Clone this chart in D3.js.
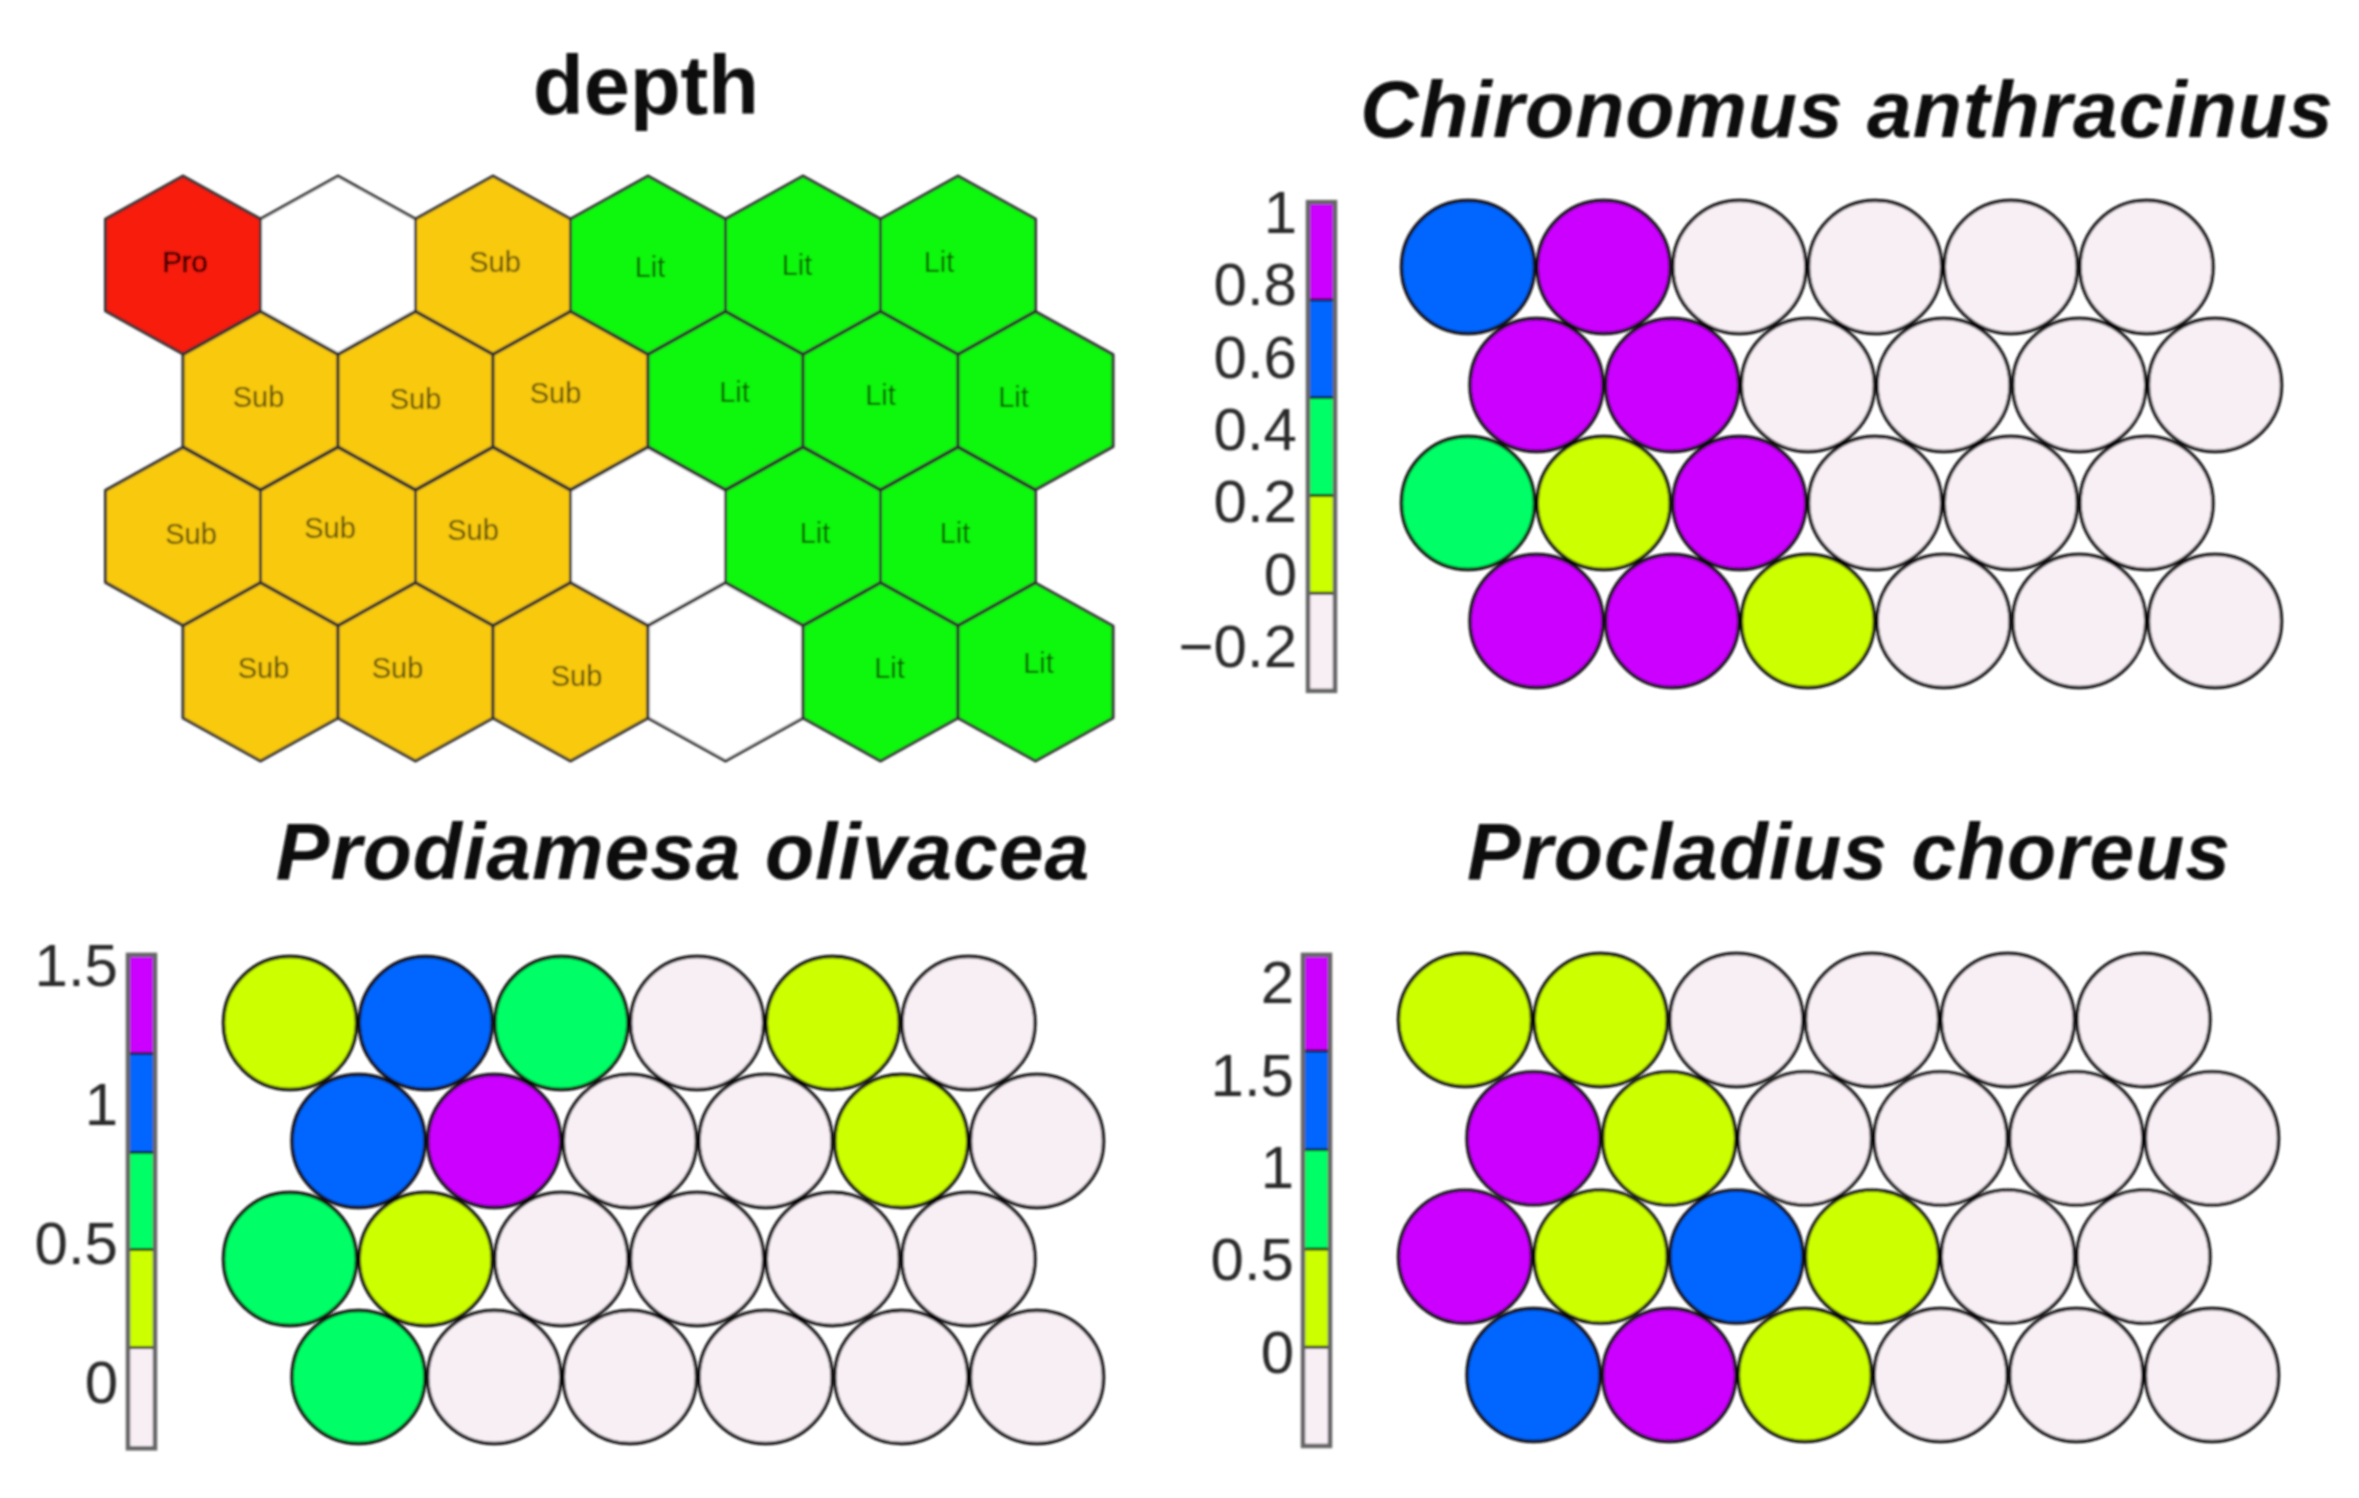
<!DOCTYPE html>
<html>
  <head>
    <meta charset="utf-8">
    <title>SOM maps</title>
    <style>
      html, body { margin: 0; padding: 0; background: #fff; }
      svg { display: block; font-family: "Liberation Sans", Arial, sans-serif; }
    </style>
  </head>
  <body>
    <div class="chart-area"></div>
    <script src="https://d3js.org/d3.v7.min.js"></script>
    <script>
      // depth classes of the hexagon map, one array per row ("" = empty cell)
      var depthRow1 = ["Pro", "", "Sub", "Lit", "Lit", "Lit"];
      var depthRow2 = ["Sub", "Sub", "Sub", "Lit", "Lit", "Lit"];
      var depthRow3 = ["Sub", "Sub", "Sub", "", "Lit", "Lit"];
      var depthRow4 = ["Sub", "Sub", "Sub", "", "Lit", "Lit"];

      // species values, read as the middle of the colour band of each circle
      var chironomus = [
        [0.6, 0.9, -0.2, -0.2, -0.2, -0.2],
        [0.9, 0.9, -0.2, -0.2, -0.2, -0.2],
        [0.35, 0.1, 0.9, -0.2, -0.2, -0.2],
        [0.9, 0.9, 0.1, -0.2, -0.2, -0.2]
      ];
      var prodiamesa = [
        [0.3, 1.0, 0.65, 0, 0.3, 0],
        [1.0, 1.35, 0, 0, 0.3, 0],
        [0.65, 0.3, 0, 0, 0, 0],
        [0.65, 0, 0, 0, 0, 0]
      ];
      var procladius = [
        [0.3, 0.3, -0.25, -0.25, -0.25, -0.25],
        [1.9, 0.3, -0.25, -0.25, -0.25, -0.25],
        [1.9, 0.3, 1.35, 0.3, -0.25, -0.25],
        [1.35, 1.9, 0.3, -0.25, -0.25, -0.25]
      ];

      // colour band edges of each legend, bottom to top
      var chironomusBands = [-0.32, -0.05, 0.22, 0.49, 0.76, 1.03];
      var prodiamesaBands = [-0.235, 0.127, 0.48, 0.83, 1.185, 1.54];
      var procladiusBands = [-0.503, 0.032, 0.563, 1.1, 1.635, 2.155];

      var chironomusTicks = [-0.2, 0, 0.2, 0.4, 0.6, 0.8, 1];
      var prodiamesaTicks = [0, 0.5, 1, 1.5];
      var procladiusTicks = [0, 0.5, 1, 1.5, 2];

      var bandColors = ["#F8EFF5", "#CCFF00", "#00FF66", "#0066FF", "#CC00FF"];
      var depthColors = { Pro: "#F81A0C", Sub: "#F8C90F", Lit: "#10F80F", "": "#FFFFFF" };

      var svg = d3.select(".chart-area")
        .append("svg")
          .attr("width", 2359)
          .attr("height", 1498);

      // the reference is a blurry raster, so soften everything a little
      svg.append("filter")
          .attr("id", "soft")
          .attr("filterUnits", "userSpaceOnUse")
          .attr("x", 0).attr("y", 0)
          .attr("width", 2359).attr("height", 1498)
        .append("feGaussianBlur")
          .attr("stdDeviation", 0.8);

      var root = svg.append("g").attr("filter", "url(#soft)");

      // ---- hexagon map ----
      var depthRows = [depthRow1, depthRow2, depthRow3, depthRow4];
      var hexX = d3.scaleLinear().domain([0, 5]).range([183, 958]);
      var hexY = d3.scaleLinear().domain([0, 3]).range([265, 672]);
      var hexHalfW = 77.5, hexTip = 89, hexShoulder = 46;

      // the labels sit slightly off centre in the reference
      var labelNudge = [
        [[2, -3], null, [2, -3], [2, 2], [-6, 0], [-19, -3]],
        [[-2, -4], [0, -2], [-15, -8], [9, -9], [0, -6], [-22, -4]],
        [[8, -2], [-8, -8], [-20, -6], null, [12, -3], [-3, -3]],
        [[3, -4], [-18, -4], [6, 4], null, [9, -4], [3, -9]]
      ];

      var hexLine = d3.line();
      function hexPath(cx, cy) {
        return hexLine([
          [cx, cy - hexTip], [cx + hexHalfW, cy - hexShoulder], [cx + hexHalfW, cy + hexShoulder],
          [cx, cy + hexTip], [cx - hexHalfW, cy + hexShoulder], [cx - hexHalfW, cy - hexShoulder]
        ]) + "Z";
      }

      var hexCells = [];
      depthRows.forEach(function(row, r) {
        row.forEach(function(label, c) {
          hexCells.push({ label: label, r: r, c: c, cx: hexX(c) + (r % 2 ? hexHalfW : 0), cy: hexY(r) });
        });
      });

      var hexes = root.append("g");
      hexes.selectAll("path")
        .data(hexCells)
        .enter().append("path")
          .attr("d", function(d) { return hexPath(d.cx, d.cy); })
          .attr("fill", function(d) { return depthColors[d.label]; })
          .attr("stroke", "#2e2e2e")
          .attr("stroke-width", 3)
          .attr("stroke-linejoin", "round");

      hexes.selectAll("text")
        .data(hexCells.filter(function(d) { return d.label !== ""; }))
        .enter().append("text")
          .attr("x", function(d) { return d.cx + labelNudge[d.r][d.c][0]; })
          .attr("y", function(d) { return d.cy + labelNudge[d.r][d.c][1] + 10; })
          .attr("text-anchor", "middle")
          .attr("font-size", 29)
          .attr("stroke-width", 0.6)
          .attr("stroke", function(d) { return d.label === "Pro" ? "#300" : "none"; })
          .attr("fill", function(d) { return d.label === "Pro" ? "#400404" : (d.label === "Sub" ? "#5a4c10" : "#085a06"); })
          .text(function(d) { return d.label; });

      // ---- circle maps with legend ----
      function drawPanel(values, bands, ticks, p) {
        var fill = d3.scaleThreshold().domain(bands.slice(1, -1)).range(bandColors);
        var x = d3.scaleLinear().domain([0, 5]).range([p.x0, p.x0 + 5 * 135.7]);
        var y = d3.scaleLinear().domain([0, 3]).range([p.y0, p.y1]);
        var g = root.append("g");

        var cells = [];
        values.forEach(function(row, r) {
          row.forEach(function(v, c) {
            cells.push({ v: v, cx: x(c) + (r % 2 ? 68.5 : 0), cy: y(r) });
          });
        });

        g.append("g").selectAll("circle")
          .data(cells)
          .enter().append("circle")
            .attr("cx", function(d) { return d.cx; })
            .attr("cy", function(d) { return d.cy; })
            .attr("r", 66.5)
            .attr("fill", function(d) { return fill(d.v); })
            .attr("stroke", "#111")
            .attr("stroke-width", 3.4);

        // colour key
        var legendY = d3.scaleLinear().domain(p.tickDomain).range(p.tickRange);
        var pairs = d3.pairs(bands);
        g.append("g").selectAll("rect")
          .data(pairs)
          .enter().append("rect")
            .attr("x", p.legendX)
            .attr("y", function(d) { return legendY(d[1]); })
            .attr("width", 27)
            .attr("height", function(d) { return legendY(d[0]) - legendY(d[1]); })
            .attr("fill", function(d, i) { return bandColors[i]; })
            .attr("stroke", "#111")
            .attr("stroke-width", 2.5);
        g.append("rect")
          .attr("x", p.legendX)
          .attr("y", legendY(bands[bands.length - 1]))
          .attr("width", 27)
          .attr("height", legendY(bands[0]) - legendY(bands[bands.length - 1]))
          .attr("fill", "none")
          .attr("stroke", "#666")
          .attr("stroke-width", 4.5);

        var axis = g.append("g")
          .attr("transform", "translate(" + (p.legendX + 4) + ",0)")
          .call(d3.axisLeft(legendY).tickValues(ticks).tickSize(0).tickPadding(p.pad).tickFormat(function(d) {
            return String(d).replace("-", "\u2212");
          }));
        axis.select(".domain").remove();
        axis.selectAll("text")
          .attr("font-family", "'Liberation Sans', Arial, sans-serif")
          .attr("font-size", 60)
          .attr("fill", "#2b2b2b");

        g.append("text")
          .attr("x", p.titleX)
          .attr("y", p.titleY)
          .attr("text-anchor", "middle")
          .attr("font-size", 80.4)
          .attr("font-weight", "bold")
          .attr("font-style", "italic")
          .attr("letter-spacing", 1)
          .attr("fill", "#0a0a0a")
          .text(p.title);
      }

      drawPanel(chironomus, chironomusBands, chironomusTicks, {
        x0: 1468, y0: 267, y1: 621, legendX: 1308,
        tickDomain: [0, 1], tickRange: [575, 213], pad: 15,
        title: "Chironomus anthracinus", titleX: 1847, titleY: 137
      });
      drawPanel(prodiamesa, prodiamesaBands, prodiamesaTicks, {
        x0: 290, y0: 1023, y1: 1377, legendX: 128,
        tickDomain: [0, 1.5], tickRange: [1383, 966], pad: 14,
        title: "Prodiamesa olivacea", titleX: 683, titleY: 879
      });
      drawPanel(procladius, procladiusBands, procladiusTicks, {
        x0: 1465, y0: 1020, y1: 1375, legendX: 1303,
        tickDomain: [0, 2], tickRange: [1353, 983.5], pad: 13,
        title: "Procladius choreus", titleX: 1849, titleY: 879
      });

      root.append("text")
        .attr("x", 646)
        .attr("y", 114)
        .attr("text-anchor", "middle")
        .attr("font-size", 83)
        .attr("font-weight", "bold")
        .attr("fill", "#0a0a0a")
        .text("depth");
    </script>
  </body>
</html>
